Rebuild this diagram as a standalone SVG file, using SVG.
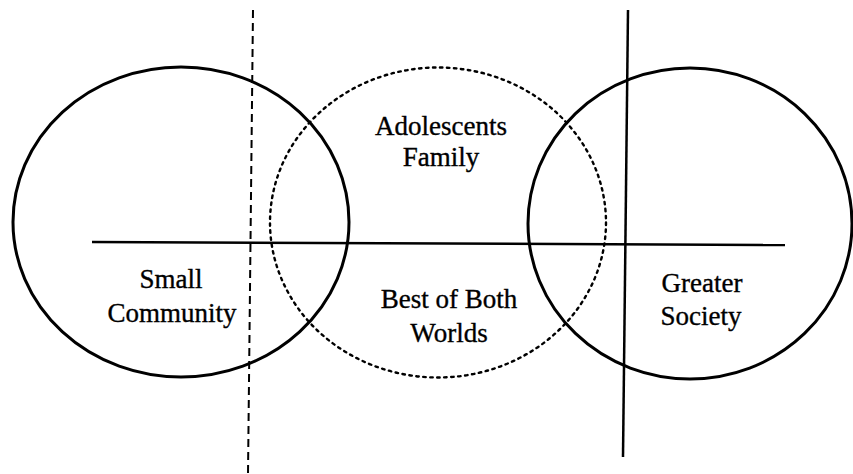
<svg xmlns="http://www.w3.org/2000/svg" width="853" height="474" viewBox="0 0 853 474">
  <style>
    .ring { fill: none; stroke: #000; stroke-width: 3; }
    .ring-dotted { fill: none; stroke: #000; stroke-width: 2.4; stroke-dasharray: 2.5 4.5; stroke-linecap: round; }
    .axis { stroke: #000; stroke-width: 2.5; fill: none; }
    .axis-dashed { stroke: #000; stroke-width: 2; stroke-dasharray: 8 5; fill: none; }
    .label { font-family: "Liberation Serif", "Times New Roman", serif; font-size: 27px; fill: #000; stroke: #000; stroke-width: 0.35; text-anchor: middle; }
  </style>
  <rect width="853" height="474" fill="#fff"/>

  <g id="small-community">
    <ellipse class="ring" cx="181" cy="222" rx="168" ry="155"/>
    <text class="label" x="171" y="288">Small</text>
    <text class="label" x="172" y="322">Community</text>
  </g>

  <g id="adolescents-family">
    <ellipse class="ring-dotted" cx="438" cy="222.5" rx="168" ry="155"/>
    <text class="label" x="441" y="135">Adolescents</text>
    <text class="label" x="441" y="166">Family</text>
    <text class="label" x="449" y="308">Best of Both</text>
    <text class="label" x="449" y="342">Worlds</text>
  </g>

  <g id="greater-society">
    <ellipse class="ring" cx="690" cy="223.5" rx="162" ry="155.5"/>
    <text class="label" x="702" y="292">Greater</text>
    <text class="label" x="701" y="325">Society</text>
  </g>

  <g id="connectors">
    <line class="axis" x1="92" y1="242" x2="785" y2="245"/>
    <line class="axis-dashed" x1="253" y1="10" x2="248" y2="474"/>
    <line class="axis" x1="628" y1="10" x2="623" y2="457"/>
  </g>
</svg>
